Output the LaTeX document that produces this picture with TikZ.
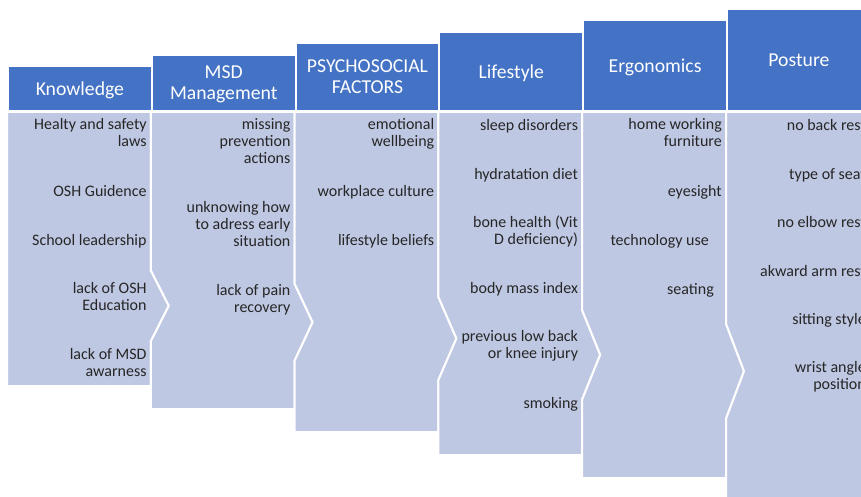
\documentclass[tikz,border=0pt]{standalone}
\usepackage{fontspec}
\setmainfont{Carlito}
\definecolor{hdrblue}{HTML}{4472C4}
\definecolor{bodyblue}{RGB}{191,200,227}
\definecolor{bodytext}{RGB}{38,38,38}
\newcommand{\hdrfont}{\fontsize{19.7}{21}\selectfont}
\newcommand{\itmfont}{\fontsize{16}{17}\selectfont}
\tikzset{
  hdr/.style={fill=hdrblue, draw=white, line width=2pt, text=white,
    font=\hdrfont, align=center, inner sep=0pt, anchor=south west,
    minimum width=143.8pt, text depth=0pt},
  bodyshape/.style={fill=bodyblue, draw=white, line width=2pt, line join=miter},
  itm/.style={anchor=north east, inner sep=0pt, align=right, text=bodytext,
    font=\itmfont, execute at begin node=\strut},
}
\begin{document}
\begin{tikzpicture}[x=1pt,y=-1pt]
\useasboundingbox (0,0) rectangle (861,497);
\clip (0,0) rectangle (861,497);

% body panels, each with a chevron into its right-hand neighbour
\path[bodyshape] (7,112) -- (150.8,112) -- (150.8,270.3) -- (168.8,305.8) -- (150.8,341.3)
  -- (150.8,386) -- (7,386) -- cycle;
\path[bodyshape] (150.8,112) -- (294.6,112) -- (294.6,283.7) -- (312.6,322.2) -- (294.6,360.7)
  -- (294.6,409) -- (150.8,409) -- (150.8,341.3) -- (168.8,305.8) -- (150.8,270.3) -- cycle;
\path[bodyshape] (294.6,112) -- (438.4,112) -- (438.4,297) -- (456.4,338.5) -- (438.4,380)
  -- (438.4,432) -- (294.6,432) -- (294.6,360.7) -- (312.6,322.2) -- (294.6,283.7) -- cycle;
\path[bodyshape] (438.4,112) -- (582.2,112) -- (582.2,310.3) -- (600.2,354.8) -- (582.2,399.3)
  -- (582.2,455) -- (438.4,455) -- (438.4,380) -- (456.4,338.5) -- (438.4,297) -- cycle;
\path[bodyshape] (582.2,112) -- (726,112) -- (726,323.7) -- (744,371.2) -- (726,418.7)
  -- (726,478) -- (582.2,478) -- (582.2,399.3) -- (600.2,354.8) -- (582.2,310.3) -- cycle;
\path[bodyshape] (726,112) -- (872,112) -- (872,515) -- (726,515)
  -- (726,418.7) -- (744,371.2) -- (726,323.7) -- cycle;

% headers
\node[hdr, minimum height=45pt]   (hK) at (7,112)     {Knowledge};
\node[hdr, minimum height=56.4pt] (hM) at (150.8,112) {MSD\\Management};
\node[hdr, minimum height=67.8pt] (hP) at (294.6,112) {PSYCHOSOCIAL\\FACTORS};
\node[hdr, minimum height=79.2pt] (hL) at (438.4,112) {Lifestyle};
\node[hdr, minimum height=90.6pt] (hE) at (582.2,112) {Ergonomics};
\node[hdr, minimum height=102pt]  (hS) at (726,112)   {Posture};

% Knowledge
\node[itm] (k1) at (146.8,118.6) {Healty and safety\\laws};
\node[itm] (k2) at (146.8,184.6) {OSH Guidence};
\node[itm] (k3) at (146.8,233.6) {School leadership};
\node[itm] (k4) at (146.8,282.6) {lack of OSH\\Education};
\node[itm] (k5) at (146.8,348.6) {lack of MSD\\awarness};

% MSD Management
\node[itm] (m1) at (290.6,118.6) {missing\\prevention\\actions};
\node[itm] (m2) at (290.6,201.6) {unknowing how\\to adress early\\situation};
\node[itm] (m3) at (290.6,284.6) {lack of pain\\recovery};

% Psychosocial factors
\node[itm] (p1) at (434.4,118.6) {emotional\\wellbeing};
\node[itm] (p2) at (434.4,184.6) {workplace culture};
\node[itm] (p3) at (434.4,233.6) {lifestyle beliefs};

% Lifestyle
\node[itm] (l1) at (578.2,118.6) {sleep disorders};
\node[itm] (l2) at (578.2,167.1) {hydratation diet};
\node[itm] (l3) at (578.2,215.6) {bone health (Vit\\D deficiency)};
\node[itm] (l4) at (578.2,281.6) {body mass index};
\node[itm] (l5) at (578.2,330.6) {previous low back\\or knee injury};
\node[itm] (l6) at (578.2,396.6) {smoking};

% Ergonomics
\node[itm] (e1) at (722,118.6) {home working\\furniture};
\node[itm] (e2) at (722,184.6) {eyesight};
\node[itm] (e3) at (709,233.6) {technology use};
\node[itm] (e4) at (714,282.6) {seating};

% Posture
\node[itm] (s1) at (866,118.6) {no back rest};
\node[itm] (s2) at (866,167.1) {type of seat};
\node[itm] (s3) at (866,215.6) {no elbow rest};
\node[itm] (s4) at (866,264.1) {akward arm rest};
\node[itm] (s5) at (866,312.6) {sitting style};
\node[itm] (s6) at (866,361.1) {wrist angle\\position};
\end{tikzpicture}
\end{document}
